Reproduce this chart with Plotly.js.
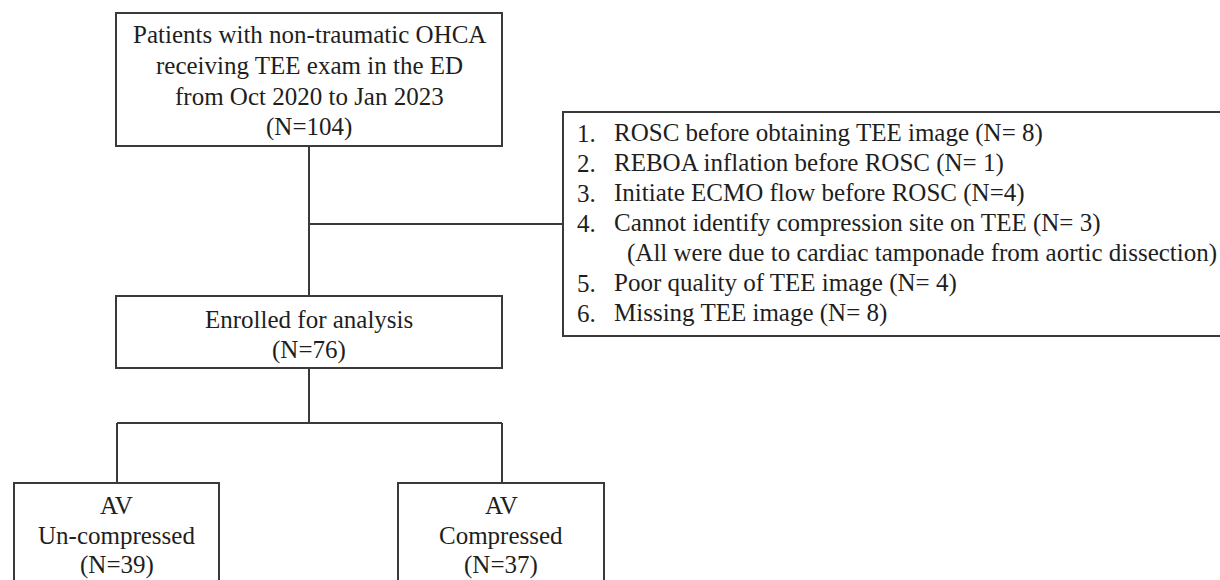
<!DOCTYPE html>
<html>
<head>
<meta charset="utf-8">
<script src="https://cdn.plot.ly/plotly-3.0.1.min.js"></script>
<style>html,body{margin:0;padding:0;background:#fff;}#chart{width:1220px;height:580px;}</style>
</head>
<body>
<div id="chart"></div>
<script>
// ---- data ----
const topLines = ["Patients with non-traumatic OHCA", "receiving TEE exam in the ED", "from Oct 2020 to Jan 2023"];
const totalN = 104;
const enrolledLabel = "Enrolled for analysis";
const enrolledN = 76;
const groupLabels = [["AV", "Un-compressed"], ["AV", "Compressed"]];
const groupN = [39, 37];
const exclusionReasons = [
  "ROSC before obtaining TEE image",
  "REBOA inflation before ROSC",
  "Initiate ECMO flow before ROSC",
  "Cannot identify compression site on TEE",
  "Poor quality of TEE image",
  "Missing TEE image"
];
const exclusionN = [8, 1, 4, 3, 4, 8];
const exclusionSep = ["= ", "= ", "=", "= ", "= ", "= "];
const exclusionNote = "(All were due to cardiac tamponade from aortic dissection)";
const noteAfterItem = 4;

// ---- style / geometry ----
const FONT = {family: "Liberation Serif", size: 25, color: "#1e1e1e"};
const LINE = {color: "#3a3a3a", width: 2};
const W = 1220, H = 580;

const shapes = [];
const ann = [];
function rect(x0, y0, x1, y1) {
  shapes.push({type: "rect", xref: "x", yref: "y", x0, y0, x1, y1, line: LINE, fillcolor: "rgba(0,0,0,0)"});
}
function seg(x0, y0, x1, y1) {
  shapes.push({type: "line", xref: "x", yref: "y", x0, y0, x1, y1, line: LINE});
}
function txt(x, y, t, anchor) {
  ann.push({x, y, xref: "x", yref: "y", text: t, showarrow: false, font: FONT,
            xanchor: anchor || "center", yanchor: "middle"});
}

// top box
const cx = 309;
rect(116, 13, 502, 146);
const topAll = topLines.concat(["(N=" + totalN + ")"]);
topAll.forEach((t, i) => txt(cx, 34 + i * 31, t));

// connector to enrolled, with branch to exclusion box
seg(cx, 146, cx, 296);
seg(cx, 224, 563, 224);

// exclusion box
rect(563, 112, 1240, 336);
const exLines = [];
exclusionReasons.forEach((r, i) => {
  exLines.push({num: (i + 1) + ".", text: r + " (N" + exclusionSep[i] + exclusionN[i] + ")"});
  if (i + 1 === noteAfterItem) exLines.push({num: "", text: exclusionNote, note: true});
});
exLines.forEach((l, i) => {
  const y = 133 + i * 30;
  if (l.num) txt(575, y, l.num, "left");
  txt(l.note ? 625 : 612, y, l.text, "left");
});

// enrolled box
rect(116, 296, 502, 368);
txt(cx, 319, enrolledLabel);
txt(cx, 350, "(N=" + enrolledN + ")");

// split
seg(cx, 368, cx, 423);
const gx = [117, 502];
seg(gx[0], 423, gx[1], 423);
const boxes = [[14, 219], [398, 604]];
gx.forEach((x, i) => {
  seg(x, 423, x, 483);
  rect(boxes[i][0], 483, boxes[i][1], 640);
  const c = (boxes[i][0] + boxes[i][1]) / 2;
  groupLabels[i].concat(["(N=" + groupN[i] + ")"]).forEach((t, j) => txt(c, 505 + j * 30, t));
});

const layout = {
  width: W, height: H,
  margin: {l: 0, r: 0, t: 0, b: 0, pad: 0},
  paper_bgcolor: "#ffffff", plot_bgcolor: "#ffffff",
  showlegend: false,
  font: {family: "Liberation Serif"},
  xaxis: {range: [0, W], visible: false, fixedrange: true},
  yaxis: {range: [H, 0], visible: false, fixedrange: true},
  shapes: shapes,
  annotations: ann
};
Plotly.newPlot("chart", [{x: [], y: [], type: "scatter", mode: "markers", hoverinfo: "skip"}], layout,
  {staticPlot: true, displayModeBar: false});
</script>
</body>
</html>
